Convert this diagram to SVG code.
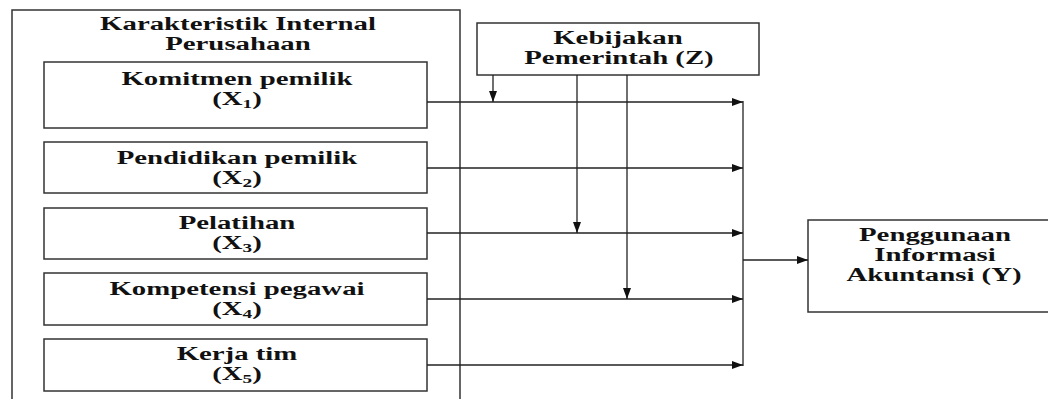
<svg xmlns="http://www.w3.org/2000/svg" width="1048" height="399" viewBox="0 0 1048 399">
<defs>
<marker id="ah" markerUnits="userSpaceOnUse" markerWidth="12" markerHeight="10" refX="11" refY="4" orient="auto">
<path d="M0,0 L11,4 L0,8 Z" fill="#111"/>
</marker>
<style>
.box{fill:#fff;stroke:#333;stroke-width:1.5}
.t{font-family:"Liberation Serif","Times New Roman",serif;font-weight:bold;font-size:18px;fill:#111;text-anchor:middle}
.sub{font-size:12px}
.c{fill:none;stroke:#222;stroke-width:1.3}
</style>
</defs>
<rect width="1048" height="399" fill="#fff"/>
<g id="internal">
<rect class="box" x="12" y="10" width="448" height="400"/>
<text class="t" transform="translate(238 30) scale(1.6 1)">Karakteristik Internal</text>
<text class="t" transform="translate(238 50) scale(1.6 1)">Perusahaan</text>
</g>
<g id="x1">
<rect class="box" x="44" y="62" width="383" height="66"/>
<text class="t" transform="translate(237 85) scale(1.6 1)">Komitmen pemilik</text>
<text class="t" transform="translate(237 105) scale(1.6 1)">(X<tspan class="sub" dy="3">1</tspan><tspan dy="-3">)</tspan></text>
</g>
<g id="x2">
<rect class="box" x="44" y="142" width="383" height="51"/>
<text class="t" transform="translate(237 164) scale(1.6 1)">Pendidikan pemilik</text>
<text class="t" transform="translate(237 184) scale(1.6 1)">(X<tspan class="sub" dy="3">2</tspan><tspan dy="-3">)</tspan></text>
</g>
<g id="x3">
<rect class="box" x="44" y="208" width="383" height="51"/>
<text class="t" transform="translate(237 229) scale(1.6 1)">Pelatihan</text>
<text class="t" transform="translate(237 249) scale(1.6 1)">(X<tspan class="sub" dy="3">3</tspan><tspan dy="-3">)</tspan></text>
</g>
<g id="x4">
<rect class="box" x="44" y="273" width="383" height="52"/>
<text class="t" transform="translate(237 295) scale(1.6 1)">Kompetensi pegawai</text>
<text class="t" transform="translate(237 315) scale(1.6 1)">(X<tspan class="sub" dy="3">4</tspan><tspan dy="-3">)</tspan></text>
</g>
<g id="x5">
<rect class="box" x="44" y="339" width="383" height="52"/>
<text class="t" transform="translate(237 360) scale(1.6 1)">Kerja tim</text>
<text class="t" transform="translate(237 380) scale(1.6 1)">(X<tspan class="sub" dy="3">5</tspan><tspan dy="-3">)</tspan></text>
</g>
<g id="z">
<rect class="box" x="477" y="23" width="282" height="52"/>
<text class="t" transform="translate(618 44) scale(1.6 1)">Kebijakan</text>
<text class="t" transform="translate(619 64) scale(1.6 1)">Pemerintah (Z)</text>
</g>
<g id="y">
<rect class="box" x="808" y="220" width="260" height="92"/>
<text class="t" transform="translate(935 241) scale(1.6 1)">Penggunaan</text>
<text class="t" transform="translate(935 261) scale(1.6 1)">Informasi</text>
<text class="t" transform="translate(934 281) scale(1.6 1)">Akuntansi (Y)</text>
</g>
<g id="connectors">
<line class="c" x1="427" y1="102" x2="743" y2="102" marker-end="url(#ah)"/>
<line class="c" x1="427" y1="168" x2="743" y2="168" marker-end="url(#ah)"/>
<line class="c" x1="427" y1="233" x2="743" y2="233" marker-end="url(#ah)"/>
<line class="c" x1="427" y1="299" x2="743" y2="299" marker-end="url(#ah)"/>
<line class="c" x1="427" y1="365" x2="743" y2="365" marker-end="url(#ah)"/>
<line class="c" x1="743" y1="101" x2="743" y2="366"/>
<line class="c" x1="743" y1="260" x2="808" y2="260" marker-end="url(#ah)"/>
<line class="c" x1="493" y1="75" x2="493" y2="102" marker-end="url(#ah)"/>
<line class="c" x1="577" y1="75" x2="577" y2="233" marker-end="url(#ah)"/>
<line class="c" x1="627" y1="75" x2="627" y2="299" marker-end="url(#ah)"/>
</g>
</svg>
